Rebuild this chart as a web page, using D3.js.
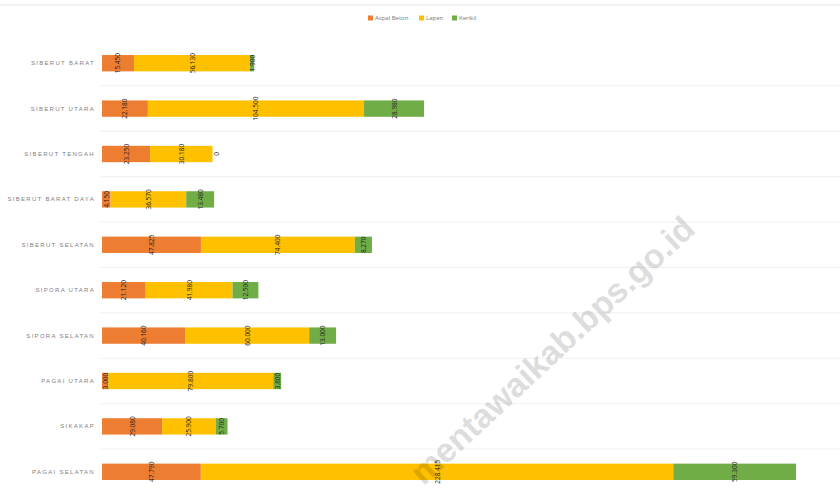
<!DOCTYPE html>
<html><head><meta charset="utf-8">
<script src="https://cdn.jsdelivr.net/npm/d3@7"></script>
<style>body{margin:0;background:#fff;}svg{display:block;font-family:"Open Sans",sans-serif;}</style>
</head><body>
<svg id="c" width="840" height="500"></svg>
<script>
const categories = ["SIBERUT BARAT","SIBERUT UTARA","SIBERUT TENGAH","SIBERUT BARAT DAYA","SIBERUT SELATAN","SIPORA UTARA","SIPORA SELATAN","PAGAI UTARA","SIKAKAP","PAGAI SELATAN"];
const seriesNames = ["Aspal Beton","Lapen","Kerikil"];
const aspalBeton = [15450, 22180, 23250, 4150, 47825, 21120, 40160, 3000, 29080, 47790];
const lapen      = [56130, 104500, 30180, 36570, 74400, 41980, 60000, 79800, 25900, 228415];
const kerikil    = [1900, 28980, 0, 13480, 8270, 12500, 13000, 3800, 5700, 59300];
const colors = ["#ED7D31","#FFC000","#70AD47"];

const svg = d3.select("#c");
const rows = categories.map((c,i)=>({cat:c, "Aspal Beton":aspalBeton[i], "Lapen":lapen[i], "Kerikil":kerikil[i]}));
const stack = d3.stack().keys(seriesNames)(rows);

const x = d3.scaleLinear().domain([0,350000]).range([102, 826]);
const y = d3.scaleBand().domain(categories).range([40.5, 494.5]).paddingInner(0.64).paddingOuter(0.32);
const step = y.step();

// top border
svg.append("line").attr("x1",0).attr("x2",840).attr("y1",5).attr("y2",5).attr("stroke","#e4e4e4").attr("stroke-width",1);

// faint separators between rows
svg.append("g").selectAll("line").data(categories.slice(1)).join("line")
  .attr("x1",100).attr("x2",840)
  .attr("y1",d=>y(d)+y.bandwidth()/2-step/2).attr("y2",d=>y(d)+y.bandwidth()/2-step/2)
  .attr("stroke","#f1f1f1").attr("stroke-width",1);

// category axis
const yAxis = d3.axisLeft(y).tickSize(0).tickPadding(6);
const ga = svg.append("g").attr("transform","translate(102,0)").call(yAxis);
ga.select(".domain").remove();
ga.selectAll("text").attr("font-size",6).attr("fill","#808080").attr("letter-spacing","1.3px").attr("x",-7);

// bars
const g = svg.append("g");
stack.forEach((s,k)=>{
  g.append("g").selectAll("rect").data(s).join("rect")
    .attr("x",d=>x(d[0])).attr("width",d=>x(d[1])-x(d[0]))
    .attr("y",d=>y(d.data.cat)).attr("height",y.bandwidth())
    .attr("fill",colors[k]);
});

// value labels (rotated)
const fmt = d3.formatLocale({decimal:",", thousands:".", grouping:[3], currency:["",""]}).format(",");
stack.forEach((s,k)=>{
  g.append("g").selectAll("text").data(s).join("text")
    .attr("transform",d=>{
      const cx = d[1]-d[0] > 0 ? (x(d[0])+x(d[1]))/2 : x(d[1])+4;
      return `translate(${cx},${y(d.data.cat)+y.bandwidth()/2}) rotate(-90)`;
    })
    .attr("text-anchor","middle").attr("dominant-baseline","central")
    .attr("font-size",6.5).attr("fill","#222")
    .text(d=>fmt(d[1]-d[0]));
});

// legend
const lg = svg.append("g").attr("transform","translate(368,18)");
const lx = [0, 51, 84];
seriesNames.forEach((n,i)=>{
  lg.append("rect").attr("x",lx[i]).attr("y",-2.5).attr("width",5).attr("height",5).attr("fill",colors[i]);
  lg.append("text").attr("x",lx[i]+7).attr("y",0).attr("dominant-baseline","central")
    .attr("font-size",6).attr("fill","#777").text(n);
});

// watermark
svg.append("text").attr("transform","translate(552,350) rotate(-43)")
  .attr("text-anchor","middle").attr("dominant-baseline","central")
  .attr("font-size",34).attr("font-weight","bold").attr("fill","#000").attr("opacity",0.13)
  .attr("font-family","Arial, 'Liberation Sans', sans-serif")
  .text("mentawaikab.bps.go.id");
</script>
</body></html>
